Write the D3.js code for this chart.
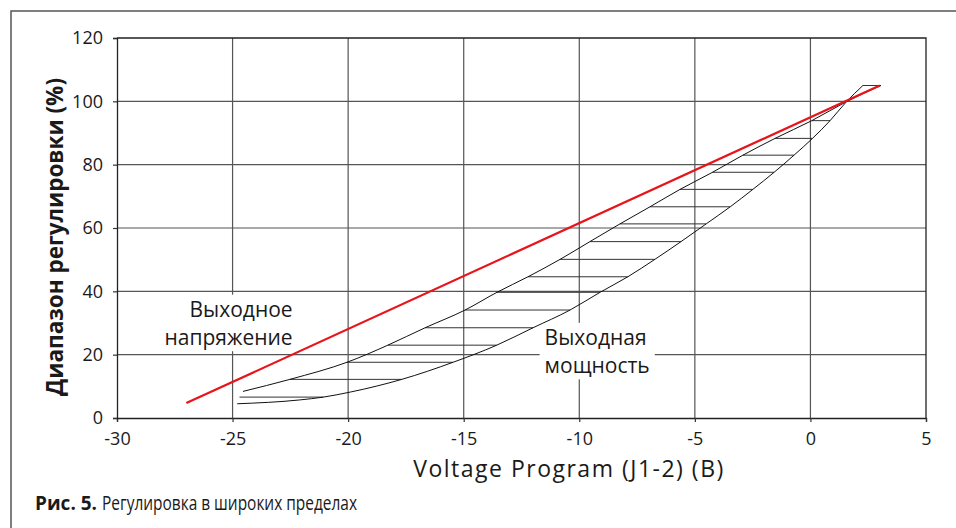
<!DOCTYPE html>
<html>
<head>
<meta charset="utf-8">
<script src="https://cdn.jsdelivr.net/npm/d3@7"></script>
<style>
  body { margin: 0; background: #fff; }
  svg { display: block; font-family: "Open Sans", sans-serif; }
</style>
</head>
<body>
<div class="canvas"></div>
<script>
const xTicks = [-30, -25, -20, -15, -10, -5, 0, 5];
const yTicks = [0, 20, 40, 60, 80, 100, 120];

// output voltage (red straight line)
const voltageX = [-27, 3];
const voltageY = [4.7, 105];

// output power band, left/upper edge
const upperX = [-24.55, -22.52, -20.01, -18.28, -16.67, -14.94, -13.56, -12.22, -10.83, -9.54, -8.24, -6.94, -5.64, -4.26, -2.92, -1.53, 0.06, 1.56, 3.05];
const upperY = [8.4, 12.2, 17.7, 23.0, 28.5, 34.1, 39.7, 44.6, 50.1, 55.7, 61.3, 66.7, 72.2, 77.5, 83.0, 88.3, 93.9, 99.9, 105];

// output power band, right/lower edge
const lowerX = [-24.8, -22.1, -21.07, -19.9, -17.68, -15.46, -13.57, -12.0, -10.4, -9.1, -7.9, -6.73, -5.6, -4.51, -3.47, -2.49, -1.57, -0.71, 0.09, 0.85, 1.56, 2.27];
const lowerY = [4.5, 5.7, 6.6, 8.2, 12.2, 17.6, 23.0, 28.5, 34.1, 39.7, 44.6, 50.1, 55.7, 61.3, 66.7, 72.2, 77.6, 83.0, 88.3, 93.9, 99.9, 105];

// hatch levels inside the band
const hatchLevels = [6.6, 12.2, 17.6, 23.0, 28.5, 34.1, 39.7, 44.6, 50.1, 55.7, 61.3, 66.7, 72.2, 77.6, 83.0, 88.3, 93.9, 105];
const hatchStartX = -24.7;

const totalWidth = 956;
const totalHeight = 528;
const margin = { top: 38, right: 30, bottom: 110, left: 117 };
const graphWidth = totalWidth - margin.left - margin.right;
const graphHeight = totalHeight - margin.top - margin.bottom;

const svg = d3.select(".canvas")
  .append("svg")
  .attr("width", totalWidth)
  .attr("height", totalHeight);

// page frame
svg.append("path")
  .attr("d", `M11,${totalHeight} V11 H${totalWidth}`)
  .attr("fill", "none")
  .attr("stroke", "#555")
  .attr("stroke-width", 1.5);

const graph = svg.append("g")
  .attr("transform", `translate(${margin.left},${margin.top})`);

const x = d3.scaleLinear().domain([-30, 5]).range([0, graphWidth]);
const y = d3.scaleLinear().domain([0, 120]).range([graphHeight, 0]);

// grid
graph.append("g").selectAll("line")
  .data(xTicks.slice(1, -1))
  .enter().append("line")
  .attr("x1", d => x(d)).attr("x2", d => x(d))
  .attr("y1", 0).attr("y2", graphHeight)
  .attr("stroke", "#555").attr("stroke-width", 1.2);

graph.append("g").selectAll("line")
  .data(yTicks.slice(1, -1))
  .enter().append("line")
  .attr("x1", 0).attr("x2", graphWidth)
  .attr("y1", d => y(d)).attr("y2", d => y(d))
  .attr("stroke", "#555").attr("stroke-width", 1.2);

// frame top/right
graph.append("path")
  .attr("d", `M0,0 H${graphWidth} V${graphHeight}`)
  .attr("fill", "none")
  .attr("stroke", "#222")
  .attr("stroke-width", 1.3);

const xAxis = d3.axisBottom(x).tickValues(xTicks).tickSize(4).tickPadding(10).tickFormat(d => String(d));
const yAxis = d3.axisLeft(y).tickValues(yTicks).tickSize(4).tickPadding(10).tickFormat(d => String(d));

const xAxisGroup = graph.append("g")
  .attr("transform", `translate(0,${graphHeight})`)
  .call(xAxis);
const yAxisGroup = graph.append("g").call(yAxis);

[xAxisGroup, yAxisGroup].forEach(g => {
  g.select(".domain").attr("stroke", "#222").attr("stroke-width", 1.3);
  g.selectAll(".tick line").attr("stroke", "#333").attr("stroke-width", 1.2);
  g.selectAll("text")
    .attr("fill", "#1a1a1a")
    .style("font-family", "'Open Sans', sans-serif")
    .style("font-size", "18px")
    .style("font-weight", 500);
});

// label boxes
function addLabel(lines, px, py, anchor) {
  const grp = graph.append("g");
  const rect = grp.append("rect").attr("fill", "#fff");
  const txt = grp.append("text")
    .attr("text-anchor", anchor)
    .attr("fill", "#1a1a1a")
    .style("font-size", "21px")
    .style("font-weight", 500);
  lines.forEach((l, i) => {
    txt.append("tspan").attr("x", x(px)).attr("y", y(py)).attr("dy", i * 28.5).text(l);
  });
  const bb = txt.node().getBBox();
  rect.attr("x", bb.x - 5).attr("y", bb.y).attr("width", bb.width + 10).attr("height", bb.height);
}
addLabel(["Выходное", "напряжение"], -22.4, 32.0, "end");
addLabel(["Выходная", "мощность"], -11.5, 23.1, "start");

// hatch lines between the two edges
function xAt(xs, ys, level) {
  for (let i = 1; i < ys.length; i++) {
    if (level <= ys[i]) {
      const t = (level - ys[i - 1]) / (ys[i] - ys[i - 1]);
      return xs[i - 1] + t * (xs[i] - xs[i - 1]);
    }
  }
  return xs[xs.length - 1];
}

graph.append("g").selectAll("line")
  .data(hatchLevels)
  .enter().append("line")
  .attr("x1", d => x(d < upperY[0] ? hatchStartX : xAt(upperX, upperY, d)))
  .attr("x2", d => x(xAt(lowerX, lowerY, d)))
  .attr("y1", d => y(d)).attr("y2", d => y(d))
  .attr("stroke", "#333").attr("stroke-width", 1);

const line = d3.line().x(d => x(d[0])).y(d => y(d[1])).curve(d3.curveMonotoneX);

graph.append("path")
  .datum(upperX.map((v, i) => [v, upperY[i]]))
  .attr("fill", "none").attr("stroke", "#111").attr("stroke-width", 1)
  .attr("d", line);

graph.append("path")
  .datum(lowerX.map((v, i) => [v, lowerY[i]]))
  .attr("fill", "none").attr("stroke", "#111").attr("stroke-width", 1)
  .attr("d", line);

graph.append("path")
  .datum(voltageX.map((v, i) => [v, voltageY[i]]))
  .attr("fill", "none").attr("stroke", "#e8141c").attr("stroke-width", 2.2)
  .attr("d", d3.line().x(d => x(d[0])).y(d => y(d[1])));

// axis titles
svg.append("text")
  .attr("transform", "translate(63,237) rotate(-90)")
  .attr("text-anchor", "middle")
  .attr("fill", "#1a1a1a")
  .style("font-size", "22.5px")
  .style("font-weight", "bold")
  .text("Диапазон регулировки (%)");

svg.append("text")
  .attr("x", 569).attr("y", 477)
  .attr("text-anchor", "middle")
  .attr("fill", "#1a1a1a")
  .style("font-size", "23px")
  .style("font-weight", 500)
  .style("letter-spacing", "1.5px")
  .text("Voltage Program (J1-2) (B)");

// caption
const cap = svg.append("text")
  .attr("x", 35).attr("y", 510)
  .attr("fill", "#1a1a1a");
cap.append("tspan")
  .style("font-weight", "bold").style("font-size", "19px")
  .text("Рис. 5.");
cap.append("tspan")
  .attr("dx", 5)
  .attr("textLength", 255)
  .attr("lengthAdjust", "spacingAndGlyphs")
  .style("font-size", "20px")
  .text("Регулировка в широких пределах");
</script>
</body>
</html>
